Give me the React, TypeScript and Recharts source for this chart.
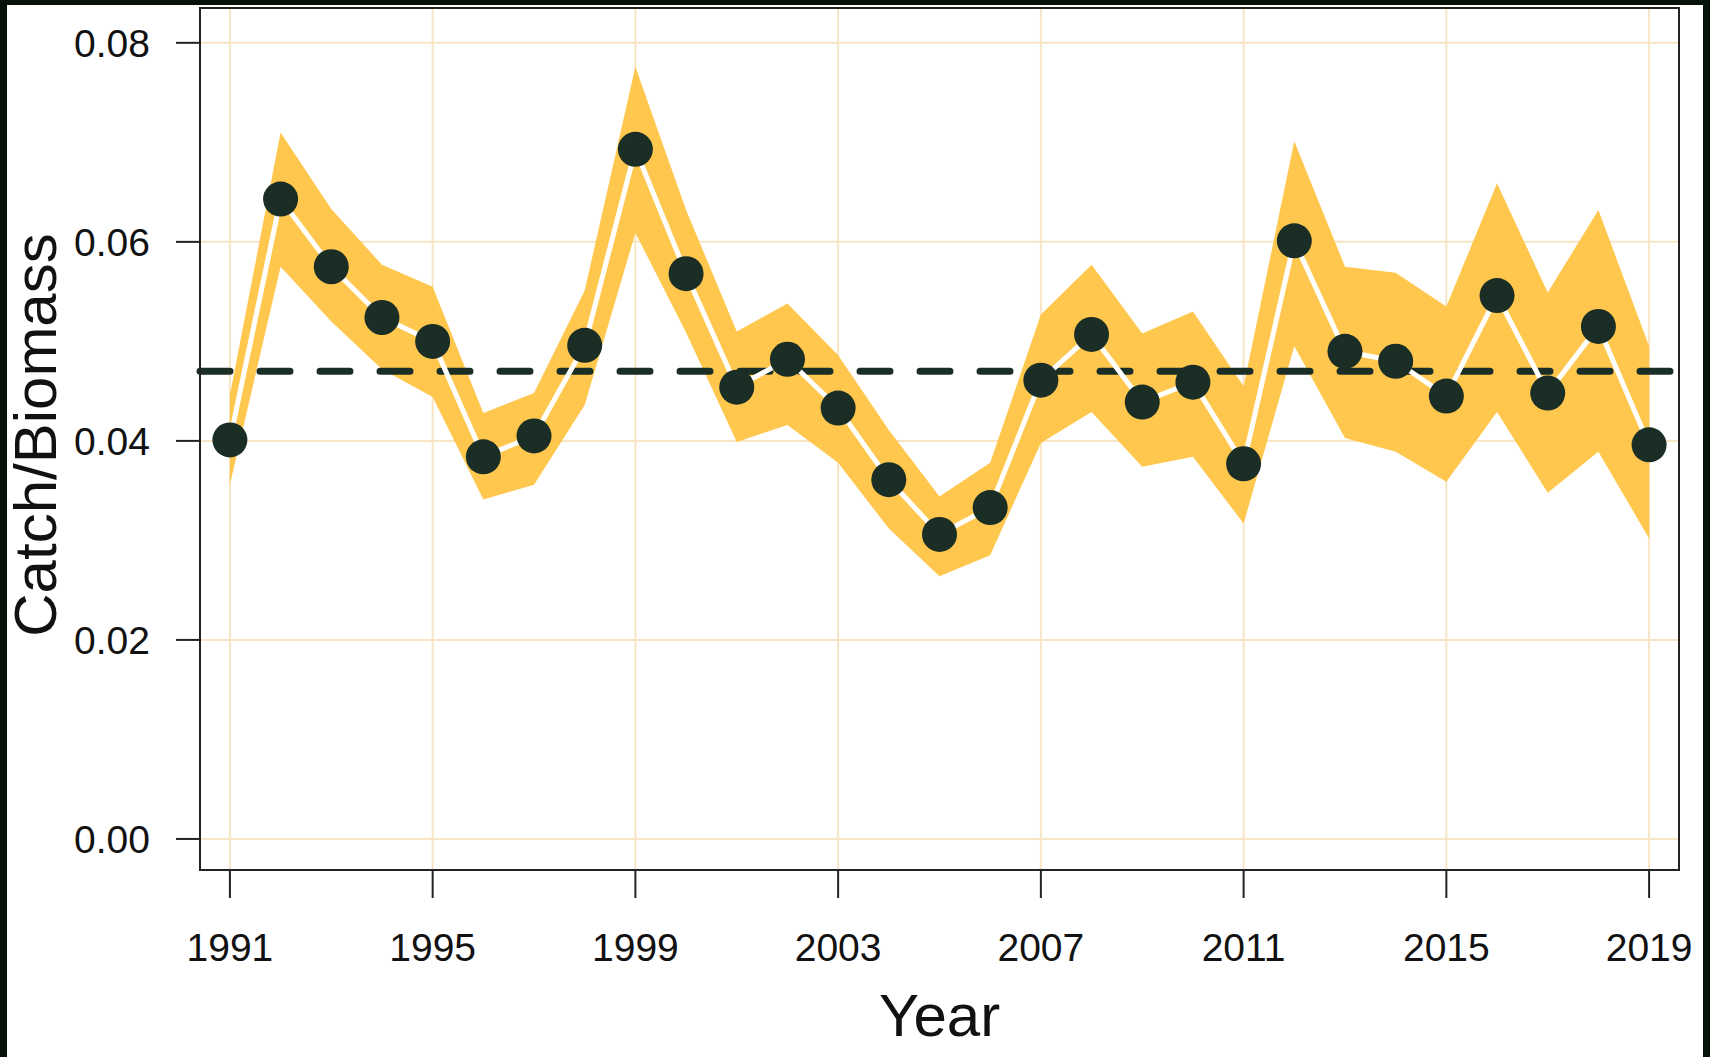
import React from "react";
import {
  ComposedChart,
  Area,
  Line,
  XAxis,
  YAxis,
  CartesianGrid,
  ReferenceLine,
  ReferenceArea,
} from "recharts";

// catch / biomass ratio by year, with uncertainty band
const years = [
  1991, 1992, 1993, 1994, 1995, 1996, 1997, 1998, 1999, 2000, 2001, 2002,
  2003, 2004, 2005, 2006, 2007, 2008, 2009, 2010, 2011, 2012, 2013, 2014,
  2015, 2016, 2017, 2018, 2019,
];
const ratio = [
  0.0401, 0.0643, 0.0575, 0.0524, 0.05, 0.0384, 0.0405, 0.0496, 0.0693,
  0.0568, 0.0454, 0.0482, 0.0433, 0.0361, 0.0306, 0.0333, 0.0461, 0.0507,
  0.0439, 0.0459, 0.0377, 0.0601, 0.049, 0.048, 0.0445, 0.0546, 0.0448,
  0.0515, 0.0396,
];
const lower = [
  0.0356, 0.0575, 0.052, 0.0472, 0.0444, 0.0341, 0.0356, 0.0436, 0.0609,
  0.0509, 0.0399, 0.0416, 0.0378, 0.0312, 0.0264, 0.0285, 0.0398, 0.0429,
  0.0374, 0.0384, 0.0317, 0.0495, 0.0403, 0.0389, 0.0359, 0.0429, 0.0348,
  0.0389, 0.0302,
];
const upper = [
  0.0446, 0.071, 0.0633, 0.0577, 0.0555, 0.0428, 0.0448, 0.0551, 0.0776,
  0.0632, 0.051, 0.0538, 0.0486, 0.0411, 0.0344, 0.0378, 0.0527, 0.0577,
  0.0508, 0.053, 0.0455, 0.0701, 0.0575, 0.0569, 0.0535, 0.0659, 0.0549,
  0.0632, 0.0495,
];
const meanRatio = 0.047;

const xTicks = [1991, 1995, 1999, 2003, 2007, 2011, 2015, 2019];
const yTicks = [0, 0.02, 0.04, 0.06, 0.08];
const xDomain = [1990.41, 2019.59];
const yDomain = [-0.00312, 0.0835];

const data = years.map((year, i) => ({
  year,
  ratio: ratio[i],
  band: [lower[i], upper[i]],
}));

const dark = "#1b2e25";
const font = "'Liberation Sans', Arial, sans-serif";

export default function App() {
  return (
    <div
      style={{
        position: "absolute",
        left: 0,
        top: 0,
        width: 1710,
        height: 1057,
        background: "#06110a",
        overflow: "hidden",
      }}
    >
      <div
        style={{
          position: "absolute",
          left: 7,
          top: 5,
          width: 1696,
          height: 1052,
          background: "#ffffff",
        }}
      />
      <div style={{ position: "absolute", left: 0, top: 0 }}>
        <ComposedChart
          width={1710}
          height={1057}
          data={data}
          margin={{ top: 8, right: 31, left: 0, bottom: 0 }}
        >
          <CartesianGrid stroke="#f8e5c4" strokeWidth={2} />
          <XAxis
            dataKey="year"
            type="number"
            domain={xDomain}
            ticks={xTicks}
            allowDataOverflow
            height={187}
            tickSize={28}
            tickMargin={35}
            stroke="#222"
            strokeWidth={2}
            tick={{ fill: "#111", fontSize: 39, fontFamily: font }}
            label={{
              content: (props: any) => {
                const vb = props.viewBox;
                return (
                  <text
                    x={vb.x + vb.width / 2}
                    y={vb.y + 166}
                    textAnchor="middle"
                    fontSize={60}
                    fontFamily={font}
                    fill="#111"
                  >
                    Year
                  </text>
                );
              },
            }}
          />
          <YAxis
            type="number"
            domain={yDomain}
            ticks={yTicks}
            allowDataOverflow
            width={200}
            tickSize={24}
            tickMargin={26}
            stroke="#222"
            strokeWidth={2}
            tickFormatter={(v: number) => v.toFixed(2)}
            tick={{ fill: "#111", fontSize: 39, fontFamily: font }}
            label={{
              content: (props: any) => {
                const vb = props.viewBox;
                const cy = vb.y + vb.height / 2 - 4;
                return (
                  <text
                    x={56}
                    y={cy}
                    transform={`rotate(-90 56 ${cy})`}
                    textAnchor="middle"
                    fontSize={60}
                    fontFamily={font}
                    fill="#111"
                  >
                    Catch/Biomass
                  </text>
                );
              },
            }}
          />
          <Area
            dataKey="band"
            type="linear"
            stroke="none"
            fill="#ffc23f"
            fillOpacity={0.92}
            isAnimationActive={false}
          />
          <ReferenceLine
            y={meanRatio}
            stroke={dark}
            strokeWidth={7}
            strokeDasharray="30 30"
            strokeLinecap="round"
          />
          <Line
            dataKey="ratio"
            type="linear"
            stroke="#ffffff"
            strokeWidth={5}
            dot={{ r: 17.5, fill: dark, stroke: "none" }}
            isAnimationActive={false}
          />
          <ReferenceArea
            x1={xDomain[0]}
            x2={xDomain[1]}
            y1={yDomain[0]}
            y2={yDomain[1]}
            fill="none"
            stroke="#222"
            strokeWidth={2}
          />
        </ComposedChart>
      </div>
    </div>
  );
}
